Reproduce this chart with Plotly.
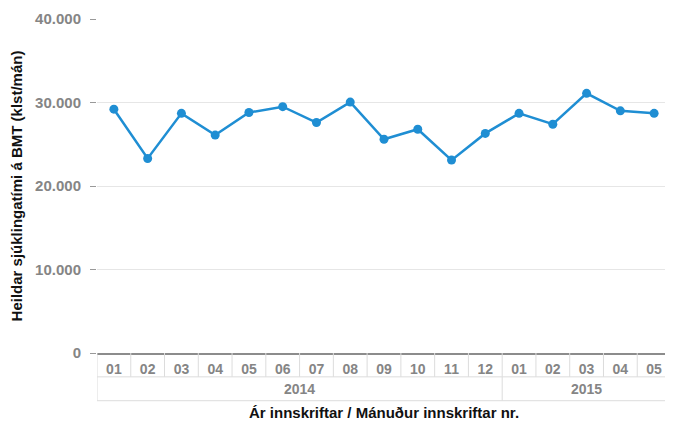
import plotly.graph_objects as go

years = ["2014"] * 12 + ["2015"] * 5
months = ["01", "02", "03", "04", "05", "06", "07", "08", "09", "10", "11", "12",
          "01", "02", "03", "04", "05"]
values = [29200, 23300, 28700, 26100, 28800, 29500, 27600, 30050, 25600,
          26800, 23100, 26300, 28700, 27400, 31100, 29000, 28700]
year_labels = ["2014", "2015"]

cats = [f"{y}-{m}" for y, m in zip(years, months)]

FONT = "Liberation Sans, Arial, sans-serif"
GRAY = "#858585"
BORDER = "#dcdcdc"
ROW1 = -24 / 336
ROW2 = -48 / 336

fig = go.Figure()
fig.add_trace(go.Scatter(
    x=cats, y=values, mode="lines+markers",
    line=dict(color="#1f8ed3", width=2.5),
    marker=dict(color="#1f8ed3", size=9),
    hoverinfo="x+y", showlegend=False,
))

shapes = []
n = len(cats)
for i in range(n + 1):
    shapes.append(dict(type="line", xref="x", yref="paper", x0=i - 0.5, x1=i - 0.5,
                       y0=0, y1=ROW1, line=dict(color=BORDER, width=1)))
starts = [0]
for i in range(1, n):
    if years[i] != years[i - 1]:
        starts.append(i)
bounds = starts + [n]
for b in bounds:
    shapes.append(dict(type="line", xref="x", yref="paper", x0=b - 0.5, x1=b - 0.5,
                       y0=ROW1, y1=ROW2, line=dict(color=BORDER, width=1)))
for yy in (ROW1, ROW2):
    shapes.append(dict(type="line", xref="x", yref="paper", x0=-0.5, x1=n - 0.5,
                       y0=yy, y1=yy, line=dict(color=BORDER, width=1)))

annotations = []
for k, yl in enumerate(year_labels):
    a, b = bounds[k], bounds[k + 1]
    annotations.append(dict(x=(a + b - 1) / 2, y=(ROW1 + ROW2) / 2, xref="x", yref="paper",
                            text=yl, showarrow=False, yanchor="middle",
                            font=dict(family=FONT, size=14, color=GRAY, weight="bold")))
annotations.append(dict(x=0.5, y=-(413 - 353) / 336, xref="paper", yref="paper",
                        text="<b>Ár innskriftar / Mánuður innskriftar nr.</b>",
                        showarrow=False, yanchor="middle",
                        font=dict(family=FONT, size=15, color="#111")))

# page body has an 8px margin, so the figure is offset by (8, 8)
fig.update_layout(
    width=665, height=415,
    margin=dict(l=89, r=2, t=9, b=70),
    paper_bgcolor="white", plot_bgcolor="white",
    separators=",.",
    font=dict(family=FONT),
    shapes=shapes,
    annotations=annotations,
    xaxis=dict(
        type="category", categoryorder="array", categoryarray=cats,
        range=[-0.5, n - 0.5],
        tickvals=cats, ticktext=months,
        ticks="", ticklabelstandoff=2,
        tickfont=dict(family=FONT, size=14, color=GRAY, weight="bold"),
        showgrid=False, showline=True, linecolor="#8c8c8c", linewidth=2,
        zeroline=False, fixedrange=True,
    ),
    yaxis=dict(
        range=[0, 40000], dtick=10000, tickformat=",d",
        ticks="outside", ticklen=6, tickcolor="#999",
        ticklabelstandoff=6,
        tickfont=dict(family=FONT, size=15, color=GRAY, weight="bold"),
        showgrid=True, gridcolor="#e6e6e6", gridwidth=1,
        zeroline=False, showline=False,
        title=dict(text="<b>Heildar sjúklingatími á BMT (klst/mán)</b>",
                   font=dict(family=FONT, size=15, color="#111"), standoff=10),
        fixedrange=True,
    ),
)

fig.write_html("out.html")
